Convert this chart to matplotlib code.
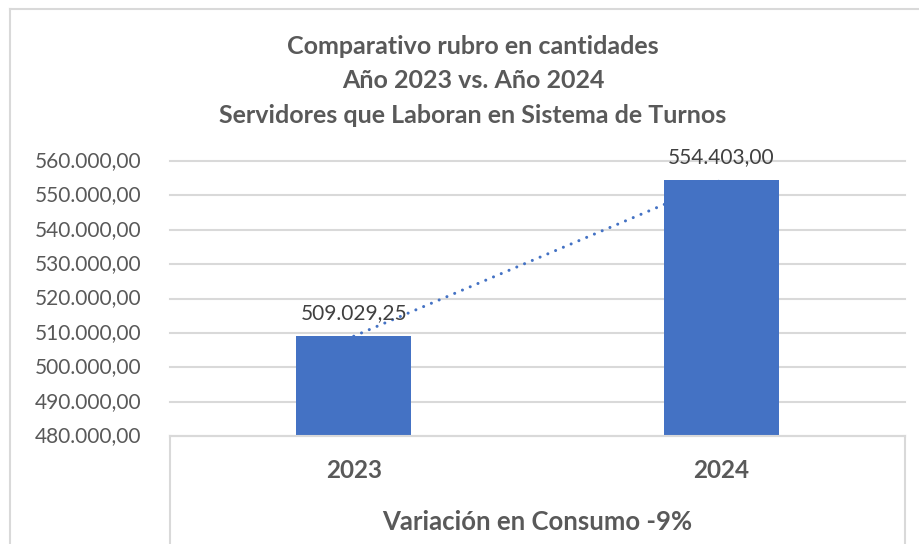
import matplotlib

matplotlib.use("Agg")
import matplotlib.pyplot as plt
import numpy as np
from matplotlib.lines import Line2D
from matplotlib.transforms import blended_transform_factory

# Datos del grafico
anios = ["2023", "2024"]
valores = [509029.25, 554403.00]
ticks_y = [480000, 490000, 500000, 510000, 520000, 530000, 540000, 550000, 560000]
titulo = ("Comparativo rubro en cantidades\n"
          "Año 2023 vs. Año 2024\n"
          "Servidores que Laboran en Sistema de Turnos")
titulo_x = "Variación en Consumo -9%"

AZUL = "#4472C4"
GRIS_TXT = "#595959"
GRIS_LINEA = "#D9D9D9"
FUENTE = "Lato"

plt.rcParams["font.family"] = [FUENTE, "DejaVu Sans"]


def fmt_es(v: float) -> str:
    s = f"{v:,.2f}"
    return s.replace(",", "X").replace(".", ",").replace("X", ".")


fig = plt.figure(figsize=(9.19, 5.44), dpi=100)
W, H = 919, 544


def linea(xs, ys):
    fig.add_artist(Line2D([v / W for v in xs], [1 - v / H for v in ys],
                          transform=fig.transFigure, color=GRIS_LINEA, lw=1.5))


# borde exterior del grafico
linea([10, 10], [9, H])
linea([10, W], [9, 9])

left, right, top, bottom = 170 / W, 905 / W, 1 - 161 / H, 1 - 436 / H
ax = fig.add_axes([left, bottom, right - left, top - bottom])

x = np.arange(len(anios))
ax.bar(x, valores, width=0.313, color=AZUL, zorder=3)

# linea de tendencia lineal
coef = np.polyfit(x, valores, 1)
ax.plot(x, np.polyval(coef, x), linestyle=(0, (0.01, 2.75)), color=AZUL, lw=2.2,
        zorder=4, dash_capstyle="round")

for xi, v in zip(x, valores):
    ax.annotate(fmt_es(v), xy=(xi, v), xytext=(0, 17), textcoords="offset points",
                ha="center", va="center", fontsize=15, color="#404040",
                annotation_clip=False, zorder=5)

ax.set_xlim(-0.5, 1.5)
ax.set_ylim(ticks_y[0], ticks_y[-1])
ax.set_xticks([])
ax.set_yticks([])
for t in ticks_y:
    ax.axhline(t, color=GRIS_LINEA, lw=1.5, zorder=0, clip_on=False)
trans_y = blended_transform_factory(fig.transFigure, ax.transData)
for t in ticks_y:
    ax.text(141 / W, t, fmt_es(t), transform=trans_y, ha="right", va="center",
            fontsize=15, color=GRIS_TXT)
for s in ax.spines.values():
    s.set_visible(False)

# caja bajo el eje (tabla de categorias)
linea([170, 905], [436, 436])
linea([170, 170], [436, H])
linea([905, 905], [436, H])

for xi, lab in zip(x, anios):
    ax.annotate(lab, xy=(xi, 0), xycoords=("data", "axes fraction"),
                xytext=(0, -25), textcoords="offset points", ha="center",
                va="center", fontsize=17.5, fontweight="bold", color=GRIS_TXT)

fig.text((left + right) / 2, 1 - 522 / H, titulo_x, ha="center",
         va="center", fontsize=18.5, fontweight="bold", color=GRIS_TXT)

fig.text(473 / W, 1 - 81 / H, titulo, ha="center", va="center", fontsize=18,
         fontweight="bold", color=GRIS_TXT, linespacing=1.63)

fig.savefig("out.png", dpi=100)
plt.close(fig)
